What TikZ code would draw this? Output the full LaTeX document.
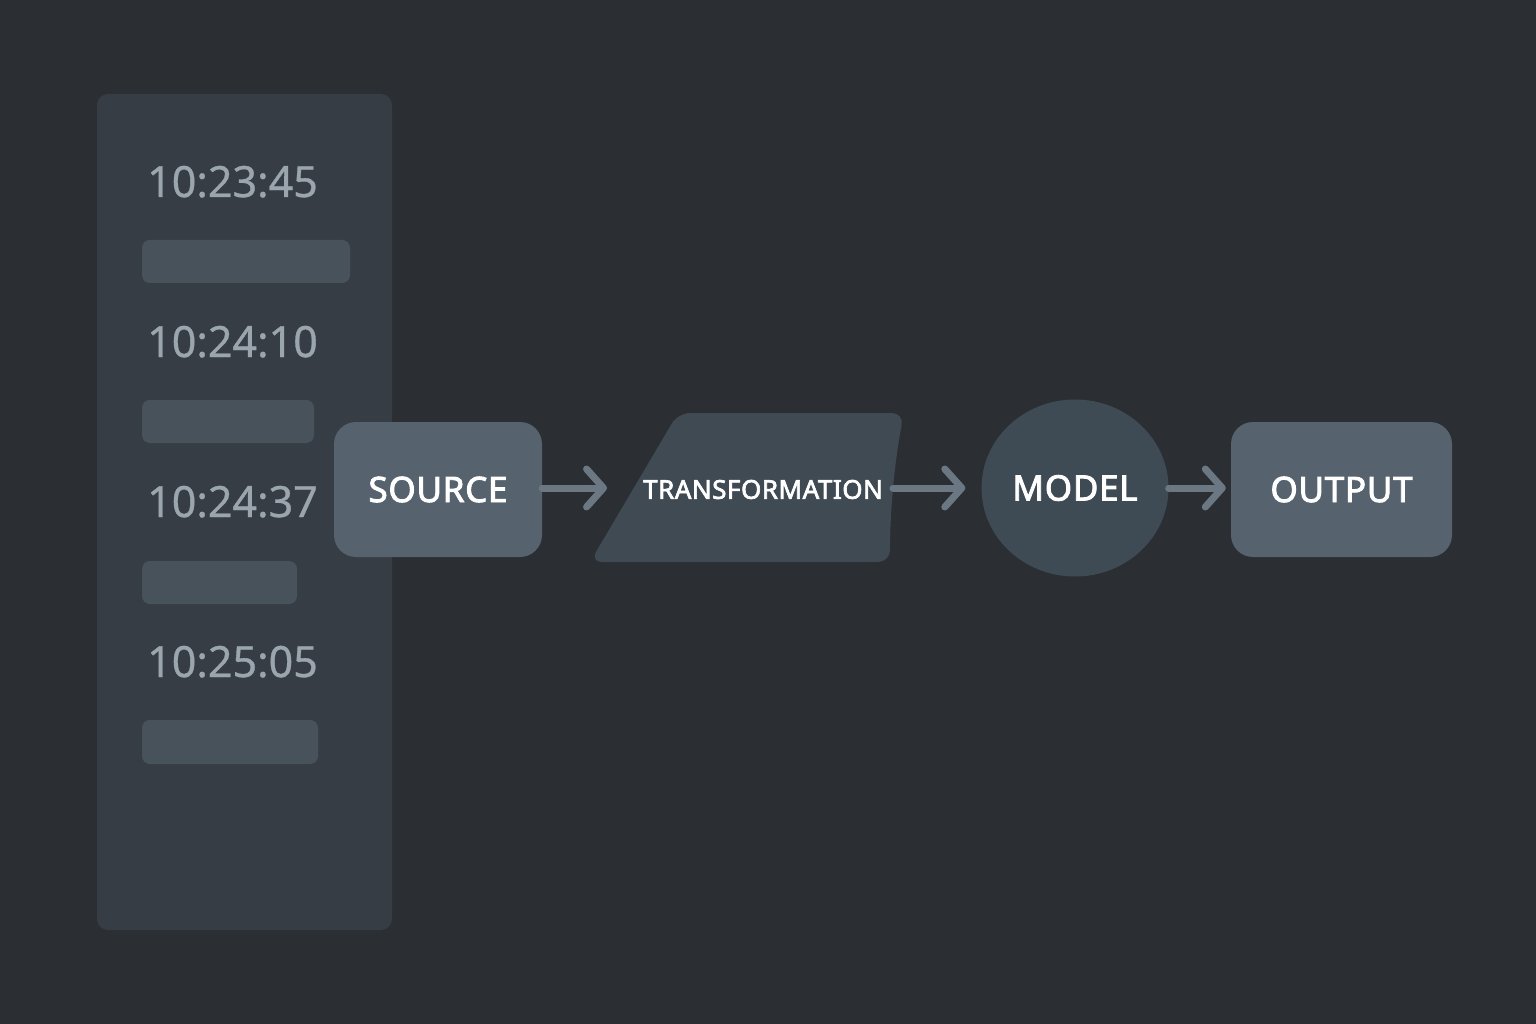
\documentclass[tikz,border=0pt]{standalone}
\usepackage{fontspec}
\setmainfont{Noto Sans}
\newfontfamily\labelfont{Noto Sans}[FakeBold=2.5,LetterSpace=2]
\newfontfamily\stampfont{Noto Sans}[FakeBold=0.8]
\usetikzlibrary{arrows.meta,shapes.geometric}
\definecolor{bgc}{HTML}{2B2E33}
\definecolor{panelc}{HTML}{373D44}
\definecolor{barc}{HTML}{48525B}
\definecolor{boxc}{HTML}{56626D}
\definecolor{transc}{HTML}{3F4A53}
\definecolor{modelc}{HTML}{3F4B54}
\definecolor{timec}{HTML}{9AA5AE}
\definecolor{arrc}{HTML}{6B7883}
\tikzset{
  bar/.style={fill=barc, rounded corners=8pt},
  stamp/.style={anchor=base west, inner sep=0pt, text=timec, font=\stampfont\fontsize{43}{43}\selectfont},
  box/.style={fill=boxc, rounded corners=22pt, text=white, font=\labelfont\fontsize{35}{35}\selectfont, inner sep=0pt},
  label/.style={text=white, inner sep=0pt},
  conn/.style={draw=arrc, line width=7pt, line cap=round, -{Straight Barb[length=17pt,width=38pt,round]}},
}
\begin{document}
\begin{tikzpicture}[x=1pt,y=-1pt]
\fill[bgc] (0,0) rectangle (1536,1024);
\useasboundingbox (0,0) rectangle (1536,1024);
% panel
\fill[panelc, rounded corners=11pt] (97,94) rectangle (392,930);
\node[stamp] (t1) at (147,197) {10:23:45};
\fill[bar] (142,240) rectangle (350,283);
\node[stamp] (t2) at (147,357) {10:24:10};
\fill[bar] (142,400) rectangle (314,443);
\node[stamp] (t3) at (147,517) {10:24:37};
\fill[bar] (142,561) rectangle (297,604);
\node[stamp] (t4) at (147,677) {10:25:05};
\fill[bar] (142,720) rectangle (318,764);
% source
\node[box, minimum width=208pt, minimum height=135pt] (src) at (438,489.5) {SOURCE};
% transformation
\fill[transc, rounded corners=12pt] (590,562) -- (678,413) -- (904,413) .. controls (893,470) and (890,520) .. (890,562) -- cycle;
\node[label, font=\labelfont\fontsize{26}{26}\selectfont] (trans) at (763,489.5) {TRANSFORMATION};
\coordinate (tin) at (607,488);
\coordinate (tout) at (893,488);
% model
\node[ellipse, fill=modelc, minimum width=187pt, minimum height=177pt, inner sep=0pt, text=white, font=\labelfont\fontsize{35}{35}\selectfont] (model) at (1075,488) {\raisebox{-2pt}{MODEL}};
% output
\node[box, minimum width=221pt, minimum height=135pt] (out) at (1341.5,489.5) {OUTPUT};
% connectors
\draw[conn] (src.east |- tin) -- (tin);
\draw[conn, shorten >=16pt] (tout) -- (model.west);
\draw[conn, shorten >=5pt] (model.east) -- (out.west |- model.east);
\end{tikzpicture}
\end{document}
